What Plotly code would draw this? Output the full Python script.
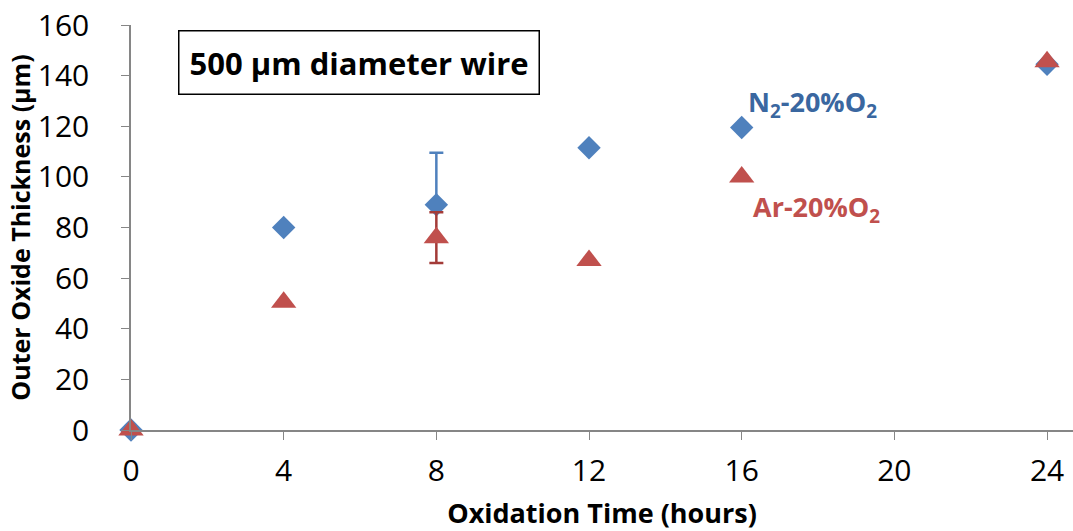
import plotly.graph_objects as go

time_n2 = [0, 4, 8, 12, 16, 24]
thick_n2 = [0, 80, 89, 111.5, 119.5, 144.5]
err_n2_plus = [0, 0, 20.5, 0, 0, 0]

time_ar = [0, 4, 8, 12, 16, 24]
thick_ar = [0, 50.5, 76, 67, 100, 145.5]
err_ar = [0, 0, 10, 0, 0, 0]

x_ticks = [0, 4, 8, 12, 16, 20, 24]
y_ticks = [0, 20, 40, 60, 80, 100, 120, 140, 160]

BLUE = "#4F81BD"
RED = "#C0504D"
FONT = "Open Sans"

fig = go.Figure()
fig.add_trace(go.Scatter(
    x=time_n2, y=thick_n2, mode="markers", name="N2-20%O2",
    marker=dict(symbol="diamond", size=18, color=BLUE),
    error_y=dict(type="data", array=err_n2_plus, arrayminus=[0]*6, symmetric=False,
                 color=BLUE, thickness=2.5, width=7),
    cliponaxis=False, showlegend=False))
fig.add_trace(go.Scatter(
    x=time_ar, y=thick_ar, mode="markers", name="Ar-20%O2",
    marker=dict(symbol="triangle-up", size=22, color=RED),
    error_y=dict(type="data", array=err_ar, symmetric=True, color="#A33B38",
                 thickness=2.5, width=7),
    cliponaxis=False, showlegend=False))

fig.update_layout(
    width=1073, height=531,
    margin=dict(l=131, r=0, t=25, b=101),
    plot_bgcolor="white", paper_bgcolor="white",
    font=dict(family=FONT, size=30, color="black"),
    xaxis=dict(range=[0, 24.68], tickvals=x_ticks, ticks="outside", ticklen=8,
               tickcolor="#868686", showline=True, linecolor="#868686", linewidth=1.5,
               showgrid=False, zeroline=False, tickfont=dict(size=30),
               ticklabelstandoff=5,
               title=dict(text="<b>Oxidation Time (hours)</b>", font=dict(size=27), standoff=15)),
    yaxis=dict(range=[0, 160], tickvals=y_ticks, ticks="outside", ticklen=8,
               tickcolor="#868686", showline=True, linecolor="#868686", linewidth=1.5,
               showgrid=False, zeroline=False, tickfont=dict(size=30),
               ticklabelstandoff=26,
               title=dict(text="<b>Outer Oxide Thickness (µm)</b>", font=dict(size=25), standoff=0)),
)

fig.add_annotation(xref="paper", yref="paper", x=(178-131)/942, y=(430-63)/405,
                   xanchor="left", yanchor="middle",
                   text="<b>500 µm diameter wire</b>", showarrow=False,
                   font=dict(size=31, color="black"), bordercolor="black",
                   borderwidth=1.5, borderpad=10, bgcolor="white")
fig.add_annotation(x=16.1, y=129, xanchor="left", yanchor="middle",
                   text="<b>N<sub>2</sub>-20%O<sub>2</sub></b>", showarrow=False,
                   font=dict(size=27, color="#3A67A0"))
fig.add_annotation(x=16.25, y=87.5, xanchor="left", yanchor="middle",
                   text="<b>Ar-20%O<sub>2</sub></b>", showarrow=False,
                   font=dict(size=27, color=RED))

fig.write_html("out.html")
